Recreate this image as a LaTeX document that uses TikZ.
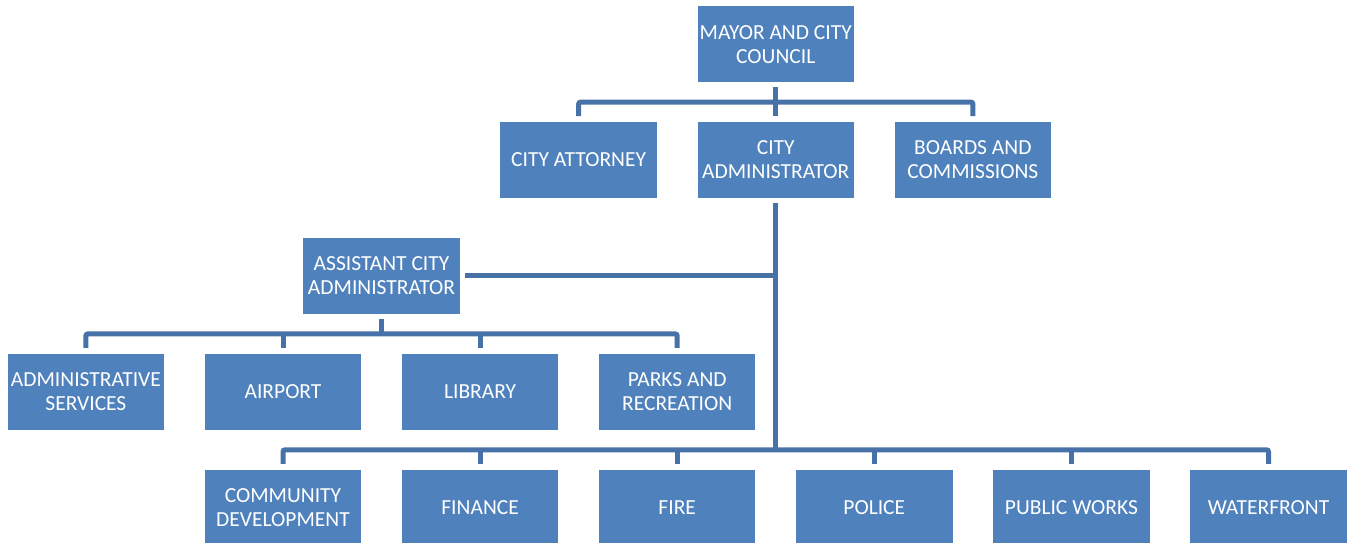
\documentclass[tikz,border=0pt]{standalone}
\usepackage{fontspec}
\setmainfont{Carlito}
\usepackage{tikz}
\usetikzlibrary{positioning, calc}
\definecolor{boxcolor}{RGB}{79, 129, 189}
\definecolor{linecolor}{RGB}{70, 114, 168}

\begin{document}
\begin{tikzpicture}[
    x=1pt, y=1pt,
    node distance=40pt and 40.2pt,
    box/.style={fill=boxcolor, text=white, minimum width=156.5pt, minimum height=75.5pt, inner sep=0pt, align=center, font=\fontsize{21.5}{24}\selectfont},
    link/.style={draw=linecolor, line width=5pt, rounded corners=2pt}
]
    \useasboundingbox (0,0) rectangle (1348,-542);

    \node[box] (cd) at (283,-507.75) {COMMUNITY\\DEVELOPMENT};
    \node[box, right=of cd] (finance) {FINANCE};
    \node[box, right=of finance] (fire) {FIRE};
    \node[box, right=of fire] (police) {POLICE};
    \node[box, right=of police] (works) {PUBLIC WORKS};
    \node[box, right=of works] (waterfront) {WATERFRONT};

    \node[box, above=of cd] (airport) {AIRPORT};
    \node[box, above=of finance] (library) {LIBRARY};
    \node[box, above=of fire] (parks) {PARKS AND\\RECREATION};
    \node[box, left=of airport] (admsrv) {ADMINISTRATIVE\\SERVICES};

    \coordinate (asstpos) at ($(airport.north)!0.5!(library.north)$);
    \node[box, above=of asstpos] (asst) {ASSISTANT CITY\\ADMINISTRATOR};

    \coordinate (midcol) at ($(fire.north)!0.5!(police.north)$);
    \coordinate (adminpos) at (asst.north -| midcol);
    \node[box, above=of adminpos] (admin) {CITY\\ADMINISTRATOR};
    \node[box, left=of admin] (attorney) {CITY ATTORNEY};
    \node[box, right=of admin] (boards) {BOARDS AND\\COMMISSIONS};
    \node[box, above=of admin] (mayor) {MAYOR AND CITY\\COUNCIL};

    \coordinate (bus1) at ($(mayor.south)!0.5!(admin.north)$);
    \coordinate (bus3) at ($(asst.south)!0.5!(asstpos)$);
    \coordinate (bus4) at ($(midcol)+(0,20)$);

    \draw[link] ([yshift=-5pt]mayor.south) -- ([yshift=6pt]admin.north);
    \draw[link] ([yshift=6pt]attorney.north) |- (bus1) -| ([yshift=6pt]boards.north);

    \draw[link] ([yshift=-5pt]admin.south) -- (bus4);
    \draw[link] ([xshift=5pt]asst.east) -- (asst.east -| bus4);

    \draw[link] ([yshift=-5pt]asst.south) -- (bus3);
    \draw[link] ([yshift=6pt]admsrv.north) |- (bus3) -| ([yshift=6pt]parks.north);
    \foreach \n in {airport, library}
        \draw[link] ([yshift=6pt]\n.north) -- (\n.north |- bus3);

    \draw[link] ([yshift=6pt]cd.north) |- (bus4) -| ([yshift=6pt]waterfront.north);
    \foreach \n in {finance, fire, police, works}
        \draw[link] ([yshift=6pt]\n.north) -- (\n.north |- bus4);
\end{tikzpicture}
\end{document}
